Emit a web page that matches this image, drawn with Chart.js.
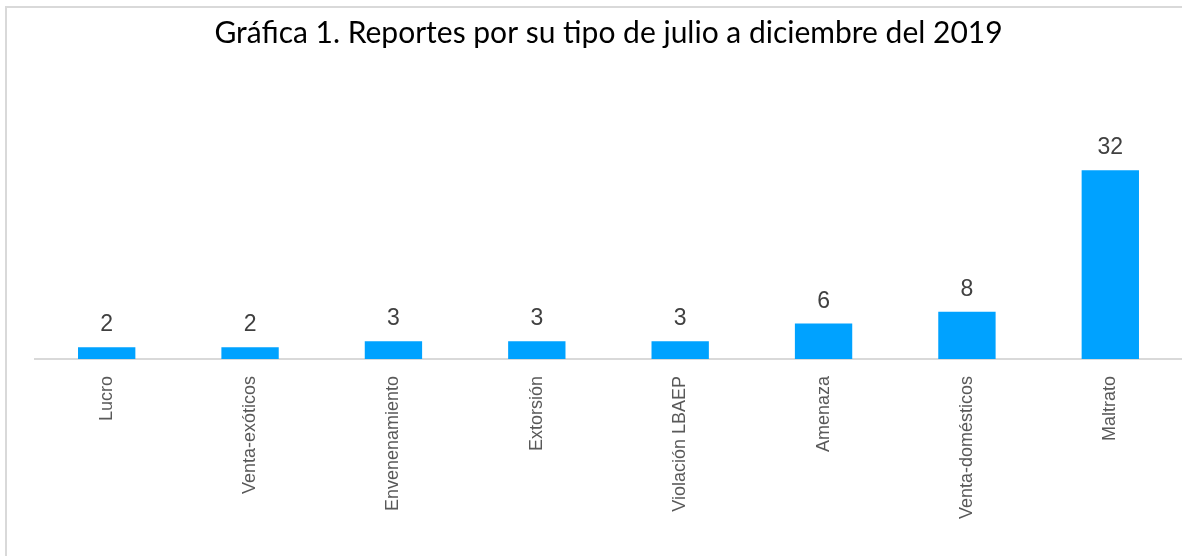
<!DOCTYPE html>
<html>
<head>
<meta charset="utf-8">
<script src="https://cdn.jsdelivr.net/npm/chart.js@4/dist/chart.umd.min.js"></script>
<style>
  html, body { margin: 0; padding: 0; background: #fff; overflow: hidden; }
  #frame { position: absolute; left: 5px; top: 6px; width: 1200px; height: 600px;
           border-top: 2px solid #d9d9d9; border-left: 2px solid #d9d9d9; }
  #wrap { position: absolute; left: 0; top: 0; width: 1182px; height: 556px; }
</style>
</head>
<body>
<div id="frame"></div>
<div id="wrap"><canvas id="reportChart"></canvas></div>
<script>
const categories = ['Lucro', 'Venta-exóticos', 'Envenenamiento', 'Extorsión', 'Violación LBAEP', 'Amenaza', 'Venta-domésticos', 'Maltrato'];
const reportCounts = [2, 2, 3, 3, 3, 6, 8, 32];
const chartTitle = 'Gráfica 1. Reportes por su tipo de julio a diciembre del 2019';

// etiquetas de valor encima de cada barra
const valueLabels = {
  id: 'valueLabels',
  afterDatasetsDraw(chart) {
    const ctx = chart.ctx;
    const meta = chart.getDatasetMeta(0);
    ctx.save();
    ctx.font = '23px "Liberation Sans", Arial, sans-serif';
    ctx.fillStyle = '#404040';
    ctx.textAlign = 'center';
    ctx.textBaseline = 'alphabetic';
    meta.data.forEach((bar, i) => {
      ctx.fillText(String(reportCounts[i]), bar.x, bar.y - 16);
    });
    ctx.restore();
  }
};

const ctx = document.getElementById('reportChart').getContext('2d');
new Chart(ctx, {
  type: 'bar',
  data: {
    labels: categories,
    datasets: [{
      data: reportCounts,
      backgroundColor: '#00a2ff',
      borderWidth: 0,
      categoryPercentage: 1,
      barPercentage: 0.4
    }]
  },
  options: {
    responsive: true,
    maintainAspectRatio: false,
    animation: false,
    layout: { padding: { left: 35, right: 0, top: 0, bottom: 0 } },
    scales: {
      x: {
        grid: { display: false },
        border: { display: true, color: '#d9d9d9', width: 2 },
        ticks: {
          autoSkip: false,
          minRotation: 90,
          maxRotation: 90,
          padding: 9,
          color: '#595959',
          font: { family: '"Liberation Sans", Arial, sans-serif', size: 18 }
        },
        afterFit(scale) { scale.height = 197; }
      },
      y: {
        display: false,
        beginAtZero: true,
        min: 0,
        max: 40
      }
    },
    plugins: {
      legend: { display: false },
      tooltip: { enabled: false },
      title: {
        display: true,
        text: chartTitle,
        color: '#000000',
        font: { family: 'Lato, "Open Sans", sans-serif', size: 30, weight: 'normal' },
        padding: { top: 15, bottom: 72 }
      }
    }
  },
  plugins: [valueLabels]
});
</script>
</body>
</html>
